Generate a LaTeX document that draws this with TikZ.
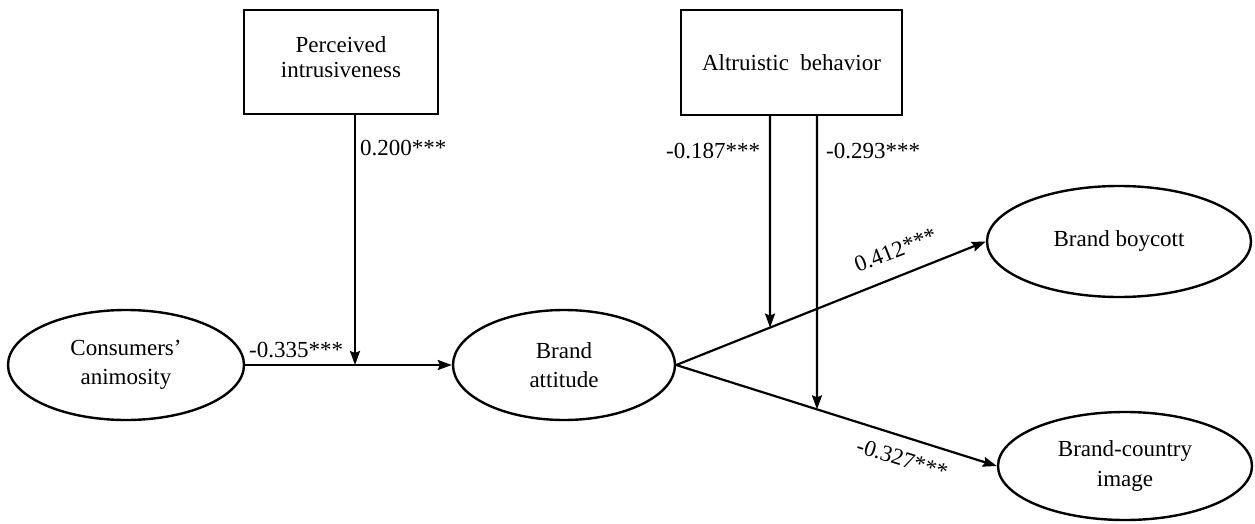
\documentclass[tikz,border=0pt]{standalone}
\usepackage{fontspec}
\setmainfont{Liberation Serif}
\usetikzlibrary{shapes.geometric,arrows.meta}
\begin{document}
\begin{tikzpicture}[x=1pt,y=-1pt,
  every node/.style={font=\fontsize{23}{29.5}\selectfont},
  oval/.style={draw,line width=2.4pt,ellipse,inner sep=0pt,align=center},
  rbox/.style={draw,line width=2.4pt,rectangle,inner sep=0pt,align=center},
  conn/.style={line width=2.2pt,-{Stealth[length=14pt,width=10pt,inset=2pt]}},
  coef/.style={inner sep=0pt,font=\fontsize{23}{27}\selectfont}]
\useasboundingbox (0,0) rectangle (1255,524);
\fill[white] (0,0) rectangle (1255,524);
% nodes
\node[oval,minimum width=236pt,minimum height=110pt] (ca) at (126,365) {Consumers'\\animosity};
\node[oval,minimum width=222pt,minimum height=110pt] (ba) at (564,365) {Brand\\attitude};
\node[oval,minimum width=264pt,minimum height=111pt] (bb) at (1119,241.5) {Brand boycott};
\node[oval,minimum width=254pt,minimum height=108pt] (bc) at (1125,466) {Brand-country\\image};
\node[rbox,minimum width=194pt,minimum height=104pt] (pi) at (341,62) {};
\node[align=center,font=\fontsize{23}{25}\selectfont] (pit) at (341,57) {Perceived\\intrusiveness};
\node[rbox,minimum width=221pt,minimum height=105pt] (ab) at (791.5,62.5) {Altruistic\ \ behavior};
% moderator endpoints
\coordinate (p1) at (355,114);
\coordinate (p2) at (355,365);
\coordinate (a1) at (770,115);
\coordinate (a1b) at (770,450);
\coordinate (a2) at (817,115);
\coordinate (a2b) at (817,450);
\coordinate (m1) at (intersection of ba.east--bb.west and a1--a1b);
\coordinate (m2) at (intersection of ba.east--bc.west and a2--a2b);
% connectors
\draw[conn] (ca.east) -- (ba.west);
\draw[conn] (p1) -- (p2);
\draw[conn] (ba.east) -- (bb.west);
\draw[conn] (ba.east) -- (bc.west);
\draw[conn] (a1) -- (m1);
\draw[conn] (a2) -- (m2);
% coefficients
\node[coef,anchor=base west] (c1) at (360,155) {0.200***};
\node[coef,anchor=base west] (c2) at (249,357) {-0.335***};
\node[coef,anchor=base west] (c3) at (666,158) {-0.187***};
\node[coef,anchor=base west] (c4) at (826,158) {-0.293***};
\node[coef,anchor=base west,rotate=21.6] (c5) at (858,273) {0.412***};
\node[coef,anchor=base west,rotate=-17.4] (c6) at (855,452) {-0.327***};
\end{tikzpicture}
\end{document}
